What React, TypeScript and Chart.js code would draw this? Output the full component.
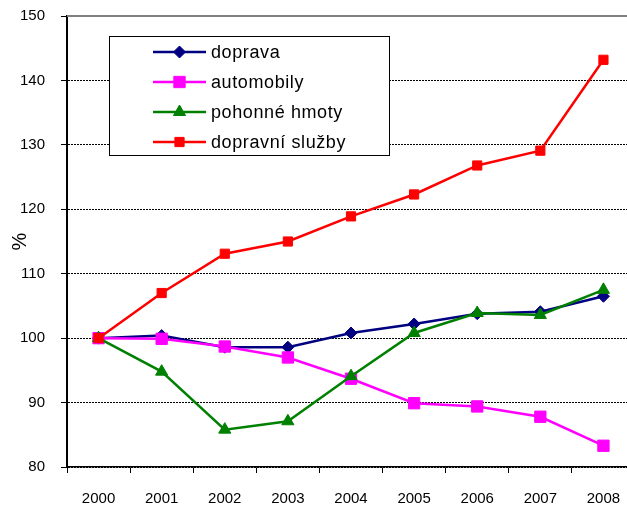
import React, { useEffect, useRef } from 'react';
import { Chart, registerables } from 'chart.js';
import { drawPoint } from 'chart.js/helpers';

Chart.register(...registerables);

const years = ['2000', '2001', '2002', '2003', '2004', '2005', '2006', '2007', '2008'];
const doprava = [100, 100.4, 98.6, 98.6, 100.8, 102.2, 103.8, 104.1, 106.5];
const automobily = [100, 99.9, 98.7, 97.0, 93.7, 89.9, 89.4, 87.8, 83.3];
const pohonneHmoty = [100, 94.8, 85.8, 87.1, 94.1, 100.8, 103.9, 103.6, 107.5];
const dopravniSluzby = [100, 107.0, 113.1, 115.0, 118.9, 122.3, 126.8, 129.1, 143.2];
const seriesNames = ['doprava', 'automobily', 'pohonné hmoty', 'dopravní služby'];
const yMin = 80;
const yMax = 150;
const yStep = 10;
const yTitle = '%';

const FONT = "'Liberation Sans', Arial, sans-serif";

const overlayPlugin = {
  id: 'overlay',
  afterDatasetsDraw(chart: any) {
    const { ctx, chartArea } = chart;
    ctx.save();
    // top border of plot
    ctx.strokeStyle = '#808080';
    ctx.lineWidth = 2;
    ctx.setLineDash([]);
    ctx.beginPath();
    ctx.moveTo(chartArea.left, chartArea.top);
    ctx.lineTo(chartArea.right, chartArea.top);
    ctx.stroke();

    // legend box
    const bx = 109.5, by = 36.5, bw = 280, bh = 119;
    ctx.fillStyle = '#ffffff';
    ctx.fillRect(bx, by, bw, bh);
    ctx.strokeStyle = '#000000';
    ctx.lineWidth = 1;
    ctx.strokeRect(bx, by, bw, bh);

    chart.data.datasets.forEach((ds: any, i: number) => {
      const y = 52 + i * 30;
      ctx.strokeStyle = ds.borderColor;
      ctx.fillStyle = ds.backgroundColor;
      ctx.lineWidth = ds.borderWidth;
      ctx.beginPath();
      ctx.moveTo(153, y);
      ctx.lineTo(206, y);
      ctx.stroke();
      ctx.lineWidth = 1;
      drawPoint(ctx, { pointStyle: ds.pointStyle, radius: ds.pointRadius, borderWidth: 1, rotation: 0 } as any, 179.5, y);
      ctx.fillStyle = '#000000';
      ctx.font = `18px ${FONT}`;
      (ctx as any).letterSpacing = '0.6px';
      ctx.textAlign = 'left';
      ctx.textBaseline = 'middle';
      ctx.fillText(ds.label, 211, y + 1);
      (ctx as any).letterSpacing = '0px';
    });
    ctx.restore();
  },
};

export default function App() {
  const canvasRef = useRef<HTMLCanvasElement>(null);

  useEffect(() => {
    if (!canvasRef.current) return;
    const mk = (label: string, data: number[], color: string, pointStyle: string, radius: number, order: number) => ({
      label,
      data,
      borderColor: color,
      backgroundColor: color,
      pointBackgroundColor: color,
      pointBorderColor: color,
      borderWidth: 2.5,
      pointStyle,
      pointRadius: radius,
      pointBorderWidth: 1,
      tension: 0,
      fill: false,
      order,
    });
    const chart = new Chart(canvasRef.current, {
      type: 'line',
      data: {
        labels: years,
        datasets: [
          mk(seriesNames[0], doprava, '#000080', 'rectRot', 6, 4),
          mk(seriesNames[1], automobily, '#FF00FF', 'rect', 8, 3),
          mk(seriesNames[2], pohonneHmoty, '#008000', 'triangle', 7, 2),
          mk(seriesNames[3], dopravniSluzby, '#FF0000', 'rect', 6.5, 1),
        ] as any,
      },
      options: {
        responsive: false,
        animation: false,
        devicePixelRatio: 1,
        layout: { padding: { top: 16, left: 0, right: 0, bottom: 0 } },
        plugins: {
          legend: { display: false },
          tooltip: { enabled: false },
        },
        scales: {
          x: {
            type: 'category',
            offset: true,
            ticks: {
              color: '#000',
              font: { family: FONT, size: 15 },
              padding: 17,
              maxRotation: 0,
              autoSkip: false,
            },
            grid: {
              offset: true,
              drawOnChartArea: false,
              color: '#000',
              tickColor: '#000',
              tickLength: 6,
            },
            border: { color: '#000', width: 1.5 },
            afterFit: (s: any) => {
              s.height = 39;
              s.paddingLeft = 0;
              s.paddingRight = 0;
            },
          },
          y: {
            min: yMin,
            max: yMax,
            ticks: {
              stepSize: yStep,
              color: '#000',
              font: { family: FONT, size: 15 },
              padding: 16,
            },
            grid: {
              color: (c: any) => (c.tick && c.tick.value === yMax ? 'rgba(0,0,0,0)' : '#000'),
              tickColor: '#000',
              tickLength: 6,
              lineWidth: 1,
              tickBorderDash: [],
            },
            border: { color: '#000', width: 2, dash: [2, 1] },
            title: {
              display: true,
              text: yTitle,
              color: '#000',
              font: { family: FONT, size: 20 },
              padding: { top: 8, bottom: 0 },
            },
            afterFit: (s: any) => {
              s.width = 67;
              s.paddingTop = 0;
              s.paddingBottom = 0;
            },
          },
        },
      } as any,
      plugins: [overlayPlugin],
    });
    return () => chart.destroy();
  }, []);

  return (
    <div
      style={{
        position: 'absolute',
        left: 0,
        top: 0,
        width: 627,
        height: 506,
        overflow: 'hidden',
        background: '#fff',
      }}
    >
      <canvas ref={canvasRef} width={644} height={506} style={{ display: 'block' }} />
    </div>
  );
}
